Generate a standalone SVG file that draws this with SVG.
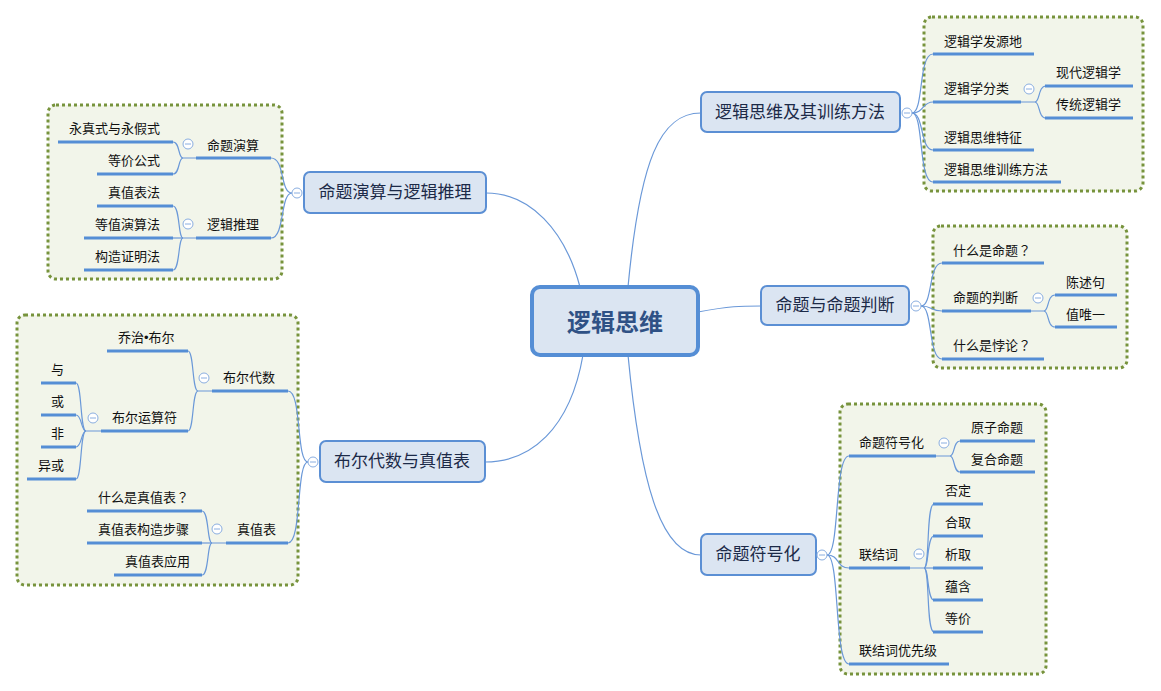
<svg xmlns="http://www.w3.org/2000/svg" width="1161" height="691" viewBox="0 0 1161 691">
<style>
text{font-family:"Noto Sans CJK SC","Noto Sans",sans-serif;}
.leaf{font-size:13px;fill:#111;}
.br{font-size:17px;fill:#1c2a48;text-anchor:middle;}
.ctr{font-size:24px;font-weight:bold;fill:#2f5185;text-anchor:middle;}
.box{fill:#f2f5ea;stroke:#77933c;stroke-width:3;stroke-dasharray:3 3;}
.node{fill:#dbe5f2;stroke:#5b8fd4;stroke-width:2;}
.ul{stroke:#558ed5;stroke-width:3;fill:none;}
.cn{stroke:#6a98d8;stroke-width:1.2;fill:none;}
.tog{fill:#fff;stroke:#8aaee0;stroke-width:1;}
.tl{stroke:#8aaee0;stroke-width:1;}
.q{font-family:"Noto Sans CJK TC",sans-serif;}
.dot{font-family:"Liberation Sans",sans-serif;}
</style>
<rect width="1161" height="691" fill="#fff"/>
<g id="boxes">
<rect class="box" x="924" y="17" width="219" height="174" rx="8"/>
<rect class="box" x="933" y="226" width="194" height="142" rx="8"/>
<rect class="box" x="840" y="404" width="206" height="270" rx="8"/>
<rect class="box" x="48" y="105" width="234" height="174" rx="8"/>
<rect class="box" x="17" y="315" width="281" height="270" rx="8"/>
</g>
<g id="connectors">
<path class="cn" d="M628 287 C640 160 660 113 701 113"/>
<path class="cn" d="M580 287 C565 230 530 193 486 193"/>
<path class="cn" d="M698 312 C730 306 740 306 761 306"/>
<path class="cn" d="M628 355 C640 480 660 555 701 555"/>
<path class="cn" d="M583 355 C570 430 530 462 485 462"/>
<path class="cn" d="M912 113 C924 113 918 54 933 54"/>
<path class="cn" d="M912 113 C924 113 922 102 933 102"/>
<path class="cn" d="M912 113 C924 113 920 150 933 150"/>
<path class="cn" d="M912 113 C924 113 918 182 933 182"/>
<path class="cn" d="M1021 102 L1035 102 C1040 102 1038 86 1046 86"/>
<path class="cn" d="M1035 102 C1040 102 1038 118 1046 118"/>
<path class="cn" d="M921 306 C933 306 928 263 942 263"/>
<path class="cn" d="M921 306 C933 306 930 311 942 311"/>
<path class="cn" d="M921 306 C933 306 928 359 942 359"/>
<path class="cn" d="M1031 311 L1044 311 C1049 311 1047 295 1055 295"/>
<path class="cn" d="M1044 311 C1049 311 1047 327 1055 327"/>
<path class="cn" d="M827 555 C840 555 834 456 849 456"/>
<path class="cn" d="M827 555 C840 555 836 568 849 568"/>
<path class="cn" d="M827 555 C840 555 834 664 849 664"/>
<path class="cn" d="M936 456 L950 456 C955 456 953 441 960 441"/>
<path class="cn" d="M950 456 C955 456 953 472 960 472"/>
<path class="cn" d="M910 568 L924 568 C930 568 926 504 934 504"/>
<path class="cn" d="M924 568 C929 568 927 536 934 536"/>
<path class="cn" d="M924 568 L934 568"/>
<path class="cn" d="M924 568 C929 568 927 600 934 600"/>
<path class="cn" d="M924 568 C930 568 926 632 934 632"/>
<path class="cn" d="M292 193 C280 193 285 158 271 158"/>
<path class="cn" d="M292 193 C280 193 285 238 271 238"/>
<path class="cn" d="M196 158 L183 158 C178 158 180 142 173 142"/>
<path class="cn" d="M183 158 C178 158 180 174 173 174"/>
<path class="cn" d="M196 238 L183 238 C178 238 180 206 173 206"/>
<path class="cn" d="M183 238 L173 238"/>
<path class="cn" d="M183 238 C178 238 180 270 173 270"/>
<path class="cn" d="M308 462 C296 462 302 391 288 391"/>
<path class="cn" d="M308 462 C296 462 302 543 288 543"/>
<path class="cn" d="M212 391 L198 391 C192 391 194 351 188 351"/>
<path class="cn" d="M198 391 C192 391 194 431 188 431"/>
<path class="cn" d="M101 431 L86 431 C80 431 82 383 76 383"/>
<path class="cn" d="M86 431 C81 431 82 415 76 415"/>
<path class="cn" d="M86 431 C81 431 82 447 76 447"/>
<path class="cn" d="M86 431 C80 431 82 479 76 479"/>
<path class="cn" d="M226 543 L212 543 C207 543 209 511 202 511"/>
<path class="cn" d="M212 543 L202 543"/>
<path class="cn" d="M212 543 C207 543 209 575 202 575"/>
</g>
<g id="center">
<rect x="532" y="287" width="166" height="68" rx="8" fill="#dbe5f2" stroke="#558ed5" stroke-width="4"/>
<text class="ctr" x="615" y="331">逻辑思维</text>
</g>
<g id="n-method">
<rect class="node" x="701" y="92" width="199" height="40" rx="6"/>
<text class="br" x="800" y="118">逻辑思维及其训练方法</text>
<circle class="tog" cx="907" cy="113" r="5"/><line class="tl" x1="904" y1="113" x2="910" y2="113"/>
</g>
<g id="n-judge">
<rect class="node" x="761" y="286" width="148" height="39" rx="6"/>
<text class="br" x="835" y="311">命题与命题判断</text>
<circle class="tog" cx="916" cy="306" r="5"/><line class="tl" x1="913" y1="306" x2="919" y2="306"/>
</g>
<g id="n-symbol">
<rect class="node" x="701" y="534" width="115" height="41" rx="6"/>
<text class="br" x="758" y="560">命题符号化</text>
<circle class="tog" cx="822" cy="555" r="5"/><line class="tl" x1="819" y1="555" x2="825" y2="555"/>
</g>
<g id="n-calc">
<rect class="node" x="304" y="172" width="182" height="41" rx="6"/>
<text class="br" x="395" y="198">命题演算与逻辑推理</text>
<circle class="tog" cx="297" cy="193" r="5"/><line class="tl" x1="294" y1="193" x2="300" y2="193"/>
</g>
<g id="n-bool">
<rect class="node" x="320" y="441" width="165" height="41" rx="6"/>
<text class="br" x="402" y="467">布尔代数与真值表</text>
<circle class="tog" cx="313" cy="462" r="5"/><line class="tl" x1="310" y1="462" x2="316" y2="462"/>
</g>
<g id="l-origin"><line class="ul" x1="933" y1="54" x2="1034" y2="54"/><text class="leaf" x="944" y="46">逻辑学发源地</text></g>
<g id="l-class"><line class="ul" x1="933" y1="102" x2="1021" y2="102"/><text class="leaf" x="944" y="93">逻辑学分类</text>
<circle class="tog" cx="1029" cy="89" r="5"/><line class="tl" x1="1026" y1="89" x2="1032" y2="89"/></g>
<g id="l-modern"><line class="ul" x1="1045" y1="86" x2="1133" y2="86"/><text class="leaf" x="1056" y="77">现代逻辑学</text></g>
<g id="l-trad"><line class="ul" x1="1045" y1="118" x2="1133" y2="118"/><text class="leaf" x="1056" y="109">传统逻辑学</text></g>
<g id="l-feature"><line class="ul" x1="933" y1="150" x2="1034" y2="150"/><text class="leaf" x="944" y="142">逻辑思维特征</text></g>
<g id="l-train"><line class="ul" x1="933" y1="182" x2="1061" y2="182"/><text class="leaf" x="944" y="174">逻辑思维训练方法</text></g>
<g id="l-whatprop"><line class="ul" x1="942" y1="263" x2="1044" y2="263"/><text class="leaf" x="953" y="255">什么是命题<tspan class="q">？</tspan></text></g>
<g id="l-judge"><line class="ul" x1="942" y1="311" x2="1031" y2="311"/><text class="leaf" x="953" y="302">命题的判断</text>
<circle class="tog" cx="1038" cy="298" r="5"/><line class="tl" x1="1035" y1="298" x2="1041" y2="298"/></g>
<g id="l-decl"><line class="ul" x1="1055" y1="295" x2="1117" y2="295"/><text class="leaf" x="1066" y="287">陈述句</text></g>
<g id="l-unique"><line class="ul" x1="1055" y1="327" x2="1117" y2="327"/><text class="leaf" x="1066" y="319">值唯一</text></g>
<g id="l-paradox"><line class="ul" x1="942" y1="359" x2="1044" y2="359"/><text class="leaf" x="953" y="350">什么是悖论<tspan class="q">？</tspan></text></g>
<g id="l-symb"><line class="ul" x1="849" y1="456" x2="936" y2="456"/><text class="leaf" x="859" y="447">命题符号化</text>
<circle class="tog" cx="944" cy="443" r="5"/><line class="tl" x1="941" y1="443" x2="947" y2="443"/></g>
<g id="l-atom"><line class="ul" x1="960" y1="441" x2="1035" y2="441"/><text class="leaf" x="971" y="432">原子命题</text></g>
<g id="l-comp"><line class="ul" x1="960" y1="472" x2="1035" y2="472"/><text class="leaf" x="971" y="464">复合命题</text></g>
<g id="l-conn"><line class="ul" x1="849" y1="568" x2="910" y2="568"/><text class="leaf" x="859" y="559">联结词</text>
<circle class="tog" cx="919" cy="554" r="5"/><line class="tl" x1="916" y1="554" x2="922" y2="554"/></g>
<g id="l-neg"><line class="ul" x1="933" y1="504" x2="983" y2="504"/><text class="leaf" x="945" y="495">否定</text></g>
<g id="l-and"><line class="ul" x1="933" y1="536" x2="983" y2="536"/><text class="leaf" x="945" y="527">合取</text></g>
<g id="l-or"><line class="ul" x1="933" y1="568" x2="983" y2="568"/><text class="leaf" x="945" y="559">析取</text></g>
<g id="l-imp"><line class="ul" x1="933" y1="600" x2="983" y2="600"/><text class="leaf" x="945" y="591">蕴含</text></g>
<g id="l-eq"><line class="ul" x1="933" y1="632" x2="983" y2="632"/><text class="leaf" x="945" y="623">等价</text></g>
<g id="l-prio"><line class="ul" x1="849" y1="664" x2="949" y2="664"/><text class="leaf" x="859" y="655">联结词优先级</text></g>
<g id="l-pcalc"><line class="ul" x1="196" y1="158" x2="271" y2="158"/><text class="leaf" x="207" y="150">命题演算</text>
<circle class="tog" cx="188" cy="144" r="5"/><line class="tl" x1="185" y1="144" x2="191" y2="144"/></g>
<g id="l-taut"><line class="ul" x1="58" y1="142" x2="173" y2="142"/><text class="leaf" x="69" y="133">永真式与永假式</text></g>
<g id="l-equivf"><line class="ul" x1="97" y1="174" x2="173" y2="174"/><text class="leaf" x="108" y="165">等价公式</text></g>
<g id="l-reason"><line class="ul" x1="196" y1="238" x2="271" y2="238"/><text class="leaf" x="207" y="229">逻辑推理</text>
<circle class="tog" cx="188" cy="224" r="5"/><line class="tl" x1="185" y1="224" x2="191" y2="224"/></g>
<g id="l-tt"><line class="ul" x1="97" y1="206" x2="173" y2="206"/><text class="leaf" x="108" y="197">真值表法</text></g>
<g id="l-eqcalc"><line class="ul" x1="84" y1="238" x2="173" y2="238"/><text class="leaf" x="95" y="229">等值演算法</text></g>
<g id="l-proof"><line class="ul" x1="84" y1="270" x2="173" y2="270"/><text class="leaf" x="95" y="261">构造证明法</text></g>
<g id="l-balg"><line class="ul" x1="212" y1="391" x2="288" y2="391"/><text class="leaf" x="223" y="382">布尔代数</text>
<circle class="tog" cx="204" cy="378" r="5"/><line class="tl" x1="201" y1="378" x2="207" y2="378"/></g>
<g id="l-boole"><line class="ul" x1="107" y1="351" x2="188" y2="351"/><text class="leaf" x="118" y="342">乔治<tspan class="dot">•</tspan>布尔</text></g>
<g id="l-bop"><line class="ul" x1="101" y1="431" x2="188" y2="431"/><text class="leaf" x="112" y="422">布尔运算符</text>
<circle class="tog" cx="93" cy="418" r="5"/><line class="tl" x1="90" y1="418" x2="96" y2="418"/></g>
<g id="l-yu"><line class="ul" x1="41" y1="383" x2="76" y2="383"/><text class="leaf" x="51" y="374">与</text></g>
<g id="l-huo"><line class="ul" x1="41" y1="415" x2="76" y2="415"/><text class="leaf" x="51" y="406">或</text></g>
<g id="l-fei"><line class="ul" x1="41" y1="447" x2="76" y2="447"/><text class="leaf" x="51" y="438">非</text></g>
<g id="l-xor"><line class="ul" x1="27" y1="479" x2="76" y2="479"/><text class="leaf" x="38" y="470">异或</text></g>
<g id="l-ttab"><line class="ul" x1="226" y1="543" x2="288" y2="543"/><text class="leaf" x="237" y="534">真值表</text>
<circle class="tog" cx="217" cy="529" r="5"/><line class="tl" x1="214" y1="529" x2="220" y2="529"/></g>
<g id="l-whattt"><line class="ul" x1="87" y1="511" x2="202" y2="511"/><text class="leaf" x="98" y="502">什么是真值表<tspan class="q">？</tspan></text></g>
<g id="l-ttsteps"><line class="ul" x1="87" y1="543" x2="202" y2="543"/><text class="leaf" x="98" y="534">真值表构造步骤</text></g>
<g id="l-ttapp"><line class="ul" x1="114" y1="575" x2="202" y2="575"/><text class="leaf" x="125" y="566">真值表应用</text></g>
</svg>
